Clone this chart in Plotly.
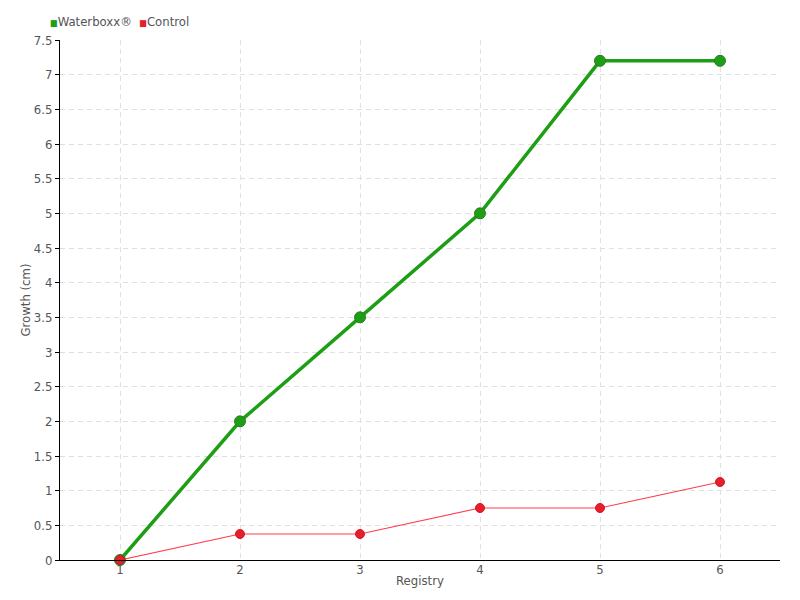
import plotly.graph_objects as go

registry = [1, 2, 3, 4, 5, 6]
waterboxx = [0, 2, 3.5, 5, 7.2, 7.2]
control = [0, 0.375, 0.375, 0.75, 0.75, 1.125]

FONT = "DejaVu Sans Condensed, Roboto, sans-serif"
GREEN = "#1e9e14"
RED = "#e81e2c"
TEXT = "#555555"

fig = go.Figure()

fig.add_trace(go.Scatter(
    x=registry, y=waterboxx, mode="lines+markers", name="Waterboxx®",
    cliponaxis=False,
    line=dict(color=GREEN, width=3.5),
    marker=dict(color=GREEN, size=11, line=dict(color="#2a7a22", width=1)),
))
fig.add_trace(go.Scatter(
    x=registry, y=control, mode="lines+markers", name="Control",
    cliponaxis=False,
    line=dict(color="#ff3c4c", width=1.2),
    marker=dict(color=RED, size=9, line=dict(color="#d01824", width=1)),
))

# compact legend, drawn as text
fig.add_annotation(
    xref="paper", yref="paper", x=-0.017, y=1.0, yshift=9,
    xanchor="left", yanchor="bottom", showarrow=False,
    text=(f"<span style='color:{GREEN};font-size:9px'>■</span>Waterboxx®"
          f"  <span style='color:{RED};font-size:9px'>■</span>Control"),
    font=dict(family=FONT, size=13, color=TEXT),
)

fig.update_layout(
    width=800, height=600,
    paper_bgcolor="white", plot_bgcolor="white",
    font=dict(family=FONT, color=TEXT, size=13),
    margin=dict(l=60, r=20, t=40, b=40, autoexpand=False),
    showlegend=False,
    xaxis=dict(range=[0.5, 6.5], tickvals=registry, showgrid=True,
               gridcolor="#e0e0e0", griddash="5px,4px", zeroline=False,
               showline=True, linecolor="black", linewidth=1,
               ticks="", ticklabelstandoff=-3,
               title=dict(text="Registry", standoff=0,
                          font=dict(size=13, color=TEXT))),
    yaxis=dict(range=[0, 7.5], dtick=0.5, showgrid=True,
               gridcolor="#e0e0e0", griddash="5px,4px", zeroline=False,
               showline=True, linecolor="black", linewidth=1,
               ticks="outside", ticklen=4, tickcolor="black",
               title=dict(text="Growth (cm)", standoff=0,
                          font=dict(size=13, color=TEXT))),
)

fig.write_html("out.html", config={"displayModeBar": False},
               post_script="document.body.style.margin='0';"
                           "document.body.style.overflow='hidden';")
